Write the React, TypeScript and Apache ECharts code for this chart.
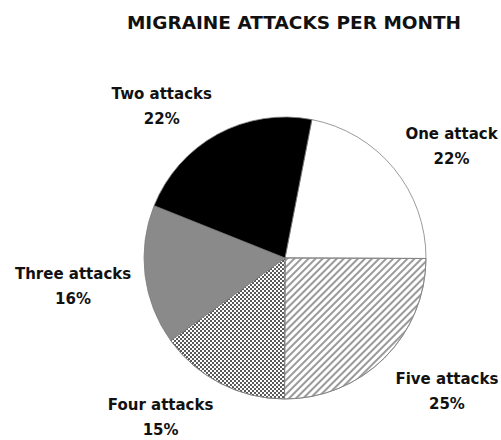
import React, { useEffect, useRef } from "react";
import * as echarts from "echarts";

const TITLE = "MIGRAINE ATTACKS PER MONTH";
const categories = ["One attack", "Five attacks", "Four attacks", "Three attacks", "Two attacks"];
const values = [22, 25, 15, 16, 22];

// visual styling (not data)
const fills = ["#ffffff", "#ffffff", "#ffffff", "#8a8a8a", "#000000"];
const labelNudges: [number, number][] = [
  [-9, -9],
  [-8, 19],
  [7, 16],
  [11, 9],
  [9, -10],
];

const decals: any[] = [
  null,
  {
    symbol: "rect",
    symbolSize: 1,
    color: "#9a9a9a",
    backgroundColor: "#ffffff",
    dashArrayX: [1, 0],
    dashArrayY: [1.3, 2.5],
    rotation: -Math.PI / 4,
  },
  {
    symbol: "rect",
    symbolSize: 1,
    color: "#5a5a5a",
    backgroundColor: "#ffffff",
    dashArrayX: [[1.5, 1.5], [0, 1.5, 1.5, 0]],
    dashArrayY: [1.5, 0],
    rotation: 0,
  },
  null,
  null,
];

export default function App() {
  const ref = useRef<HTMLDivElement>(null);
  useEffect(() => {
    if (!ref.current) return;
    const chart = echarts.init(ref.current, null, { renderer: "svg" });
    const data = categories.map((name, i) => {
      const item: any = {
        name,
        value: values[i],
        itemStyle: { color: fills[i] },
      };
      if (decals[i]) item.itemStyle.decal = decals[i];
      return item;
    });
    chart.setOption({
      animation: false,
      backgroundColor: "#ffffff",
      title: {
        text: TITLE,
        left: 289,
        top: 8,
        textAlign: "center",
        textStyle: {
          fontFamily: "DejaVu Sans",
          fontWeight: "bold",
          fontSize: 18.5,
          color: "#111",
        },
      },
      series: [
        {
          type: "pie",
          center: [285, 258],
          radius: 141,
          startAngle: 79,
          clockwise: true,
          avoidLabelOverlap: false,
          itemStyle: { borderColor: "#808080", borderWidth: 0.8 },
          emphasis: { disabled: true },
          label: {
            show: true,
            position: "outside",
            formatter: "{b}\n{d}%",
            fontFamily: "DejaVu Sans",
            fontWeight: "bold",
            fontSize: 15,
            lineHeight: 25,
            color: "#111",
          },
          labelLine: { show: false, length: 20, length2: 0 },
          labelLayout: (params: any) => {
            const r = params.labelRect;
            const n = labelNudges[params.dataIndex] || [0, 0];
            return {
              x: r.x + r.width / 2 + n[0],
              y: r.y + r.height / 2 + n[1],
              align: "center",
              verticalAlign: "middle",
            };
          },
          data,
        },
      ],
    });
    return () => chart.dispose();
  }, []);
  return (
    <div
      ref={ref}
      style={{ position: "fixed", left: 0, top: 0, width: 501, height: 440 }}
    />
  );
}
